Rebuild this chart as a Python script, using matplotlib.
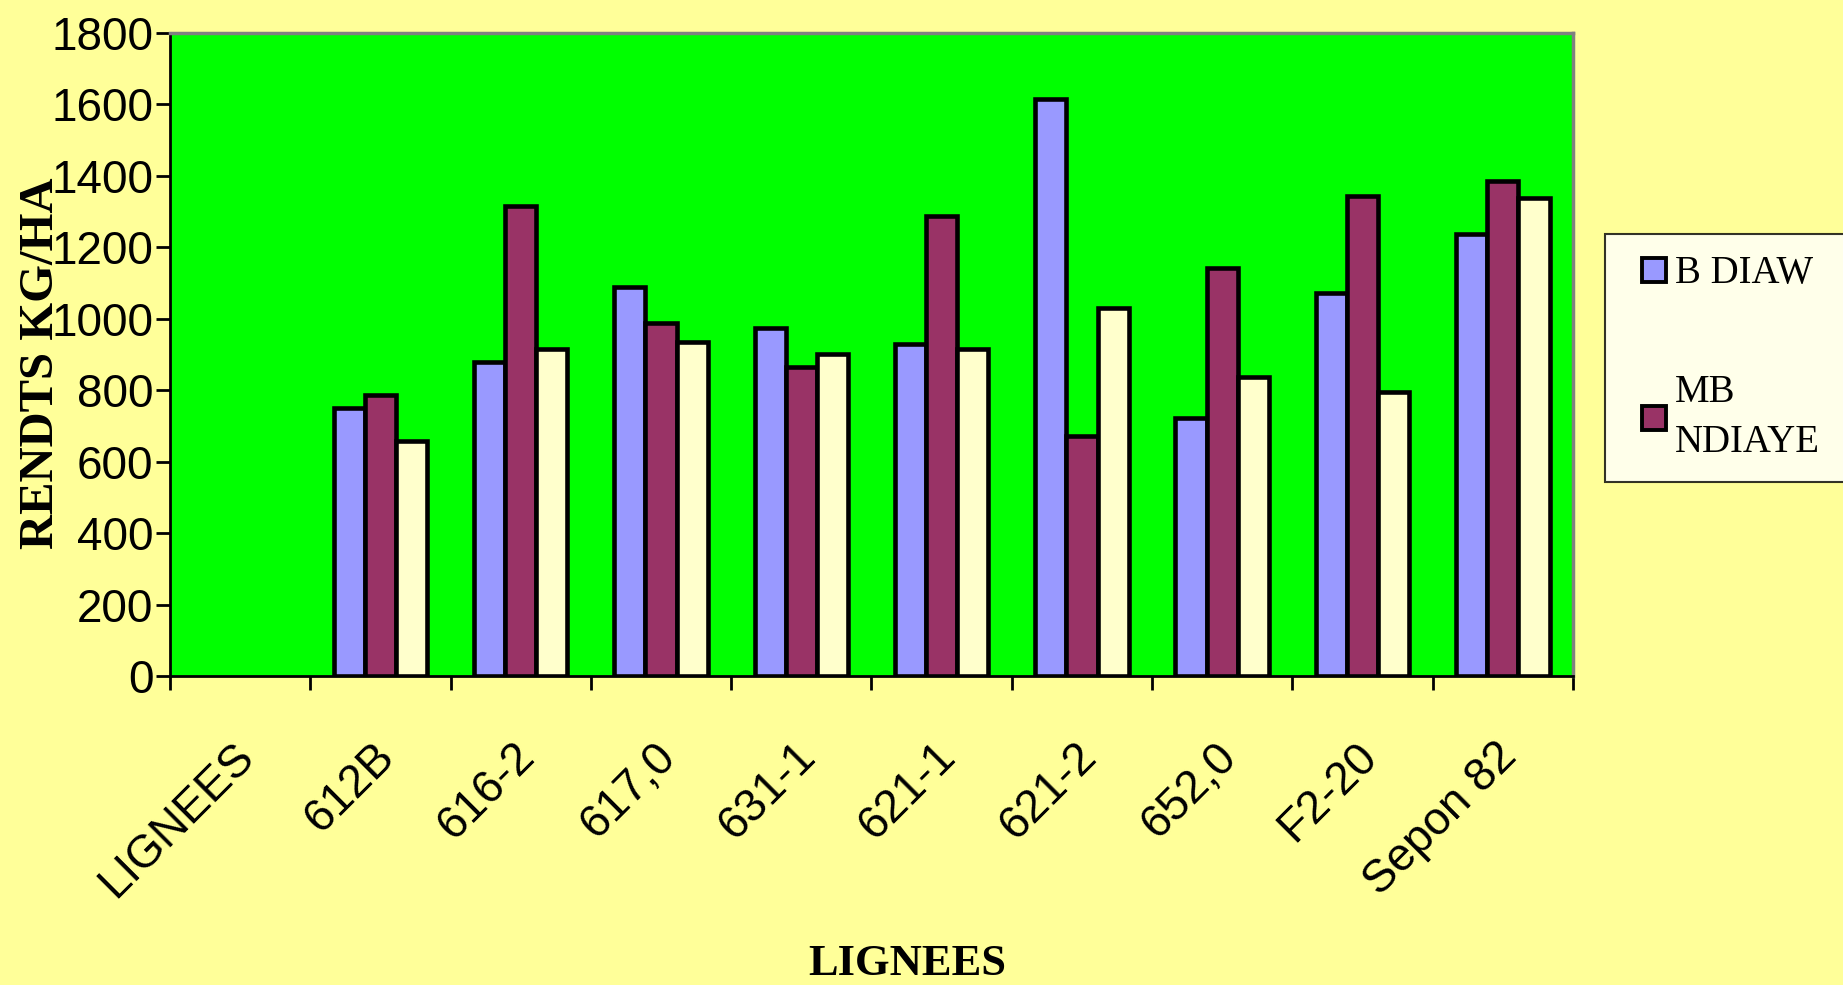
import numpy as np
import matplotlib.pyplot as plt
from matplotlib.lines import Line2D
from matplotlib.transforms import ScaledTranslation

# rendements par lignee (kg/ha)
categories = ["LIGNEES", "612B", "616-2", "617,0", "631-1", "621-1",
              "621-2", "652,0", "F2-20", "Sepon 82"]
b_diaw = [750, 880, 1088, 973, 929, 1616, 722, 1071, 1237]
mb_ndiaye = [786, 1316, 987, 866, 1287, 672, 1143, 1344, 1387]
serie3 = [657, 915, 936, 901, 915, 1029, 837, 794, 1337]

series = [("B DIAW", b_diaw, "#9999FF"),
          ("MB\nNDIAYE", mb_ndiaye, "#993366"),
          (None, serie3, "#FFFFCC")]

fig = plt.figure(figsize=(18.43, 9.85), dpi=100, facecolor="#FFFF99")
ax = fig.add_axes([0.0922, 0.3137, 0.7613, 0.6528], facecolor="#00FF00")

x = np.arange(1, len(categories))
w = 2 / 9
for i, (name, vals, col) in enumerate(series):
    ax.bar(x + (i - 1) * w, vals, width=w, color=col,
           edgecolor="black", linewidth=3.3, zorder=3)

ax.set_xlim(-0.5, len(categories) - 0.5)
ax.set_ylim(0, 1800)
ax.set_yticks(np.arange(0, 1801, 200))

# ticks at category boundaries, labels at centres
ax.set_xticks(np.arange(-0.5, len(categories), 1), minor=True)
ax.set_xticks(np.arange(len(categories)))
ax.set_xticklabels(categories, rotation=45, ha="right", va="top",
                   rotation_mode="anchor")
ax.tick_params(axis="x", which="major", length=0, pad=42)
ax.tick_params(axis="x", which="minor", length=10, width=2, direction="out")
ax.tick_params(axis="y", length=10, width=2, pad=2)
offset = ScaledTranslation(-8 / 100, 0, fig.dpi_scale_trans)
for lbl in ax.get_xticklabels():
    lbl.set_transform(lbl.get_transform() + offset)

for lbl in ax.get_xticklabels() + ax.get_yticklabels():
    lbl.set_fontfamily("Liberation Sans")
    lbl.set_fontsize(33)

for s in ["left", "bottom"]:
    ax.spines[s].set_color("black")
    ax.spines[s].set_linewidth(2)
for s in ["top", "right"]:
    ax.spines[s].set_color("#808080")
    ax.spines[s].set_linewidth(2.5)

fig.text(0.0225, 0.631, "RENDTS KG/HA", rotation=90, ha="center", va="center",
         family="Liberation Serif", weight="bold", fontsize=35)
fig.text(0.492, 0.021, "LIGNEES", ha="center", va="center",
         family="Liberation Serif", weight="bold", fontsize=32)

handles = [Line2D([], [], linestyle="None", marker="s", markersize=17,
                  markerfacecolor=col, markeredgecolor="black",
                  markeredgewidth=2.8)
           for name, vals, col in series if name]
labels = [name for name, vals, col in series if name]
leg = fig.legend(handles, labels, loc="upper left",
                 bbox_to_anchor=(0.871, 0.526, 0.16, 0.2365), mode="expand",
                 prop={"family": "Liberation Serif", "size": 28},
                 frameon=True, fancybox=False, edgecolor="black",
                 borderpad=0.55, labelspacing=2.1, handlelength=1.4,
                 handletextpad=-0.15, borderaxespad=0)
for t in leg.get_texts():
    t.set_linespacing(1.45)
leg.get_frame().set_linewidth(1.5)
leg.get_frame().set_facecolor("white")

fig.savefig("out.png", dpi=100, facecolor=fig.get_facecolor())
